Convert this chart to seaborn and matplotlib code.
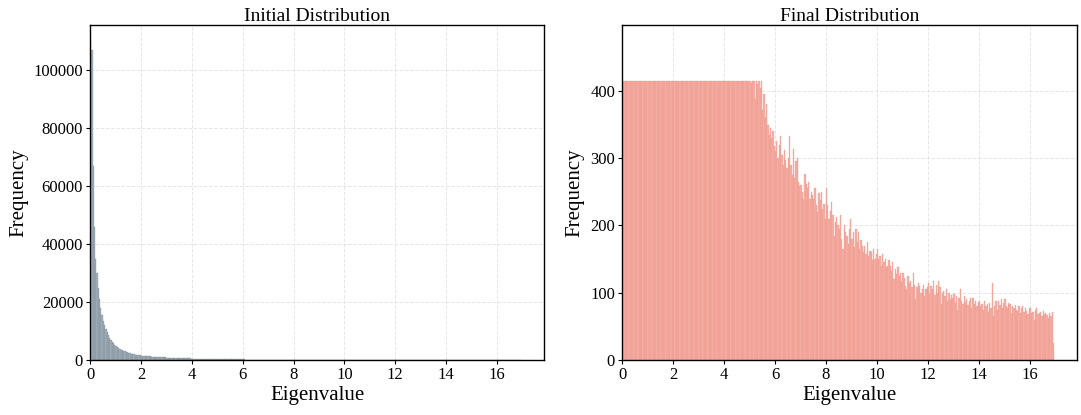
import numpy as np
import pandas as pd
import matplotlib
matplotlib.use("Agg")
import matplotlib.pyplot as plt
import seaborn as sns

# ---------------- data (bin heights; bin width 0.05 from 0 to 16.95) ----------------
bin_max = 16.95

initial_counts = [
    110000, 107000, 67000, 46000, 35000, 30000, 25000, 21000, 18000, 15500,
    13500, 12000, 10800, 9600, 8600, 7600, 6900, 6300, 5700, 5200,
    4800, 4450, 4150, 3850, 3600, 3350, 3150, 2950, 2780, 2620,
    2480, 2350, 2220, 2110, 2000, 1900, 1810, 1720, 1640, 1570,
    1500, 1460, 1420, 1380, 1340, 1300, 1260, 1225, 1190, 1155,
    1120, 1090, 1060, 1030, 1000, 970, 945, 920, 895, 870,
    850, 828, 806, 785, 765, 745, 725, 706, 688, 670,
    652, 635, 618, 602, 586, 571, 556, 542, 528, 514,
    500, 487, 474, 462, 450, 438, 427, 416, 405, 395,
    385, 375, 365, 356, 347, 338, 330, 322, 314, 306,
    298, 291, 284, 277, 270, 263, 257, 251, 245, 239,
    233, 227, 222, 217, 212, 207, 202, 197, 192, 188,
    184, 180, 176, 172, 168, 164, 160, 156, 153, 150,
    147, 144, 141, 138, 135, 132, 129, 126, 123, 120,
    117, 114, 111, 108, 106, 104, 102, 100, 98, 96,
    94, 92, 90, 88, 86, 84, 82, 80, 78, 76,
    75, 73, 71, 70, 68, 67, 65, 64, 62, 61,
    60, 58, 57, 56, 55, 54, 53, 52, 51, 50,
    49, 48, 47, 46, 45, 44, 43, 42, 41, 40,
    40, 39, 38, 37, 36, 36, 35, 34, 33, 33,
    32, 31, 31, 30, 29, 29, 28, 28, 27, 26,
    26, 25, 25, 24, 24, 23, 23, 22, 22, 21,
    21, 20, 20, 20, 19, 19, 18, 18, 18, 17,
    17, 17, 16, 16, 16, 15, 15, 15, 14, 14,
    14, 14, 13, 13, 13, 13, 12, 12, 12, 12,
    11, 11, 11, 11, 10, 10, 10, 10, 10, 9,
    9, 9, 9, 9, 8, 8, 8, 8, 8, 8,
    7, 7, 7, 7, 7, 7, 7, 6, 6, 6,
    6, 6, 6, 6, 6, 5, 5, 5, 5, 5,
    5, 5, 5, 4, 4, 4, 4, 4, 4, 4,
    4, 4, 3, 3, 3, 3, 3, 3, 3, 3,
    3, 3, 3, 3, 2, 2, 2, 2, 2, 2,
    2, 2, 2, 2, 2, 2, 2, 2, 1, 1,
    1, 1, 1, 1, 1, 1, 1, 1, 1,
]

final_counts = [415] * 100 + [
    415, 412, 415, 415, 388, 415, 410, 415, 404, 415,
    372, 395, 362, 380, 350, 335, 345, 330, 340, 318,
    310, 325, 300, 320, 333, 305, 290, 312, 298, 285,
    300, 333, 290, 275, 314, 270, 296, 300, 265, 258,
    260, 250, 240, 277, 262, 255, 265, 240, 250, 245,
    240, 255, 230, 220, 248, 238, 250, 225, 232, 210,
    255, 230, 210, 222, 235, 215, 185, 205, 212, 200,
    195, 215, 180, 165, 200, 190, 185, 172, 195, 210,
    180, 190, 168, 195, 176, 190, 165, 178, 170, 160,
    170, 158, 175, 155, 162, 160, 148, 165, 150, 158,
    165, 150, 155, 140, 158, 145, 150, 138, 140, 148,
    140, 132, 145, 120, 135, 128, 138, 125, 130, 118,
    130, 122, 110, 105, 125, 115, 118, 108, 130, 112,
    90, 108, 115, 110, 100, 105, 112, 95, 105, 108,
    115, 100, 110, 105, 118, 96, 112, 100, 118, 108,
    83, 100, 103, 95, 105, 88, 100, 90, 96, 92,
    98, 85, 95, 75, 92, 105, 88, 83, 95, 86,
    90, 82, 87, 92, 78, 92, 83, 88, 80, 86,
    87, 80, 84, 75, 88, 80, 83, 72, 85, 77,
    115, 65, 80, 87, 75, 88, 82, 90, 78, 85,
    90, 80, 77, 85, 83, 70, 80, 77, 82, 75,
    73, 80, 70, 77, 80, 72, 77, 73, 68, 78,
    77, 70, 72, 60, 75, 77, 68, 70, 72, 65,
    73, 68, 70, 67, 62, 70, 65, 72, 25,
]

titles = ["Initial Distribution", "Final Distribution"]
x_label = "Eigenvalue"
y_label = "Frequency"
x_ticks = [0, 2, 4, 6, 8, 10, 12, 14, 16]

# ---------------- build tables ----------------
edges = np.linspace(0, bin_max, len(final_counts) + 1)
centers = (edges[:-1] + edges[1:]) / 2
bin_list = [float(e) for e in edges]
df_init = pd.DataFrame({"eigenvalue": centers, "count": initial_counts})
df_final = pd.DataFrame({"eigenvalue": centers, "count": final_counts})

# ---------------- style ----------------
sns.set_style("white")
plt.rcParams["font.family"] = ["Liberation Serif", "DejaVu Serif"]
plt.rcParams["axes.edgecolor"] = "black"
plt.rcParams["text.color"] = "black"
plt.rcParams["axes.labelcolor"] = "black"
plt.rcParams["xtick.color"] = "black"
plt.rcParams["ytick.color"] = "black"

fig = plt.figure(figsize=(10.81, 4.15), dpi=100)
ax1 = fig.add_axes([0.0833, 0.1325, 0.4200, 0.8072])
ax2 = fig.add_axes([0.5754, 0.1325, 0.4209, 0.8072])

sns.histplot(data=df_init, x="eigenvalue", weights="count", bins=bin_list, ax=ax1,
             color="#a5b1bc", edgecolor="#72828f", linewidth=0.2, alpha=1.0)
sns.histplot(data=df_final, x="eigenvalue", weights="count", bins=bin_list, ax=ax2,
             color="#f6b0a6", edgecolor="#ee8d80", linewidth=0.18, alpha=1.0)

ylims = [(0, 115500), (0, 498)]
for ax, title, yl in zip([ax1, ax2], titles, ylims):
    ax.set_xlim(0, 17.85)
    ax.set_ylim(*yl)
    ax.set_xticks(x_ticks)
    ax.set_title(title, fontsize=14, pad=3)
    ax.set_xlabel(x_label, fontsize=15, labelpad=2)
    ax.set_ylabel(y_label, fontsize=15, labelpad=4)
    ax.tick_params(axis="both", labelsize=12, length=3, width=0.8, direction="out",
                   bottom=True, left=True, pad=2, colors="black")
    ax.grid(True, linestyle="--", color="#dcdcdc", linewidth=0.7, alpha=0.7)
    ax.set_axisbelow(True)
    for s in ax.spines.values():
        s.set_visible(True)
        s.set_color("black")
        s.set_linewidth(1.0)

fig.savefig("out.png", dpi=100)
